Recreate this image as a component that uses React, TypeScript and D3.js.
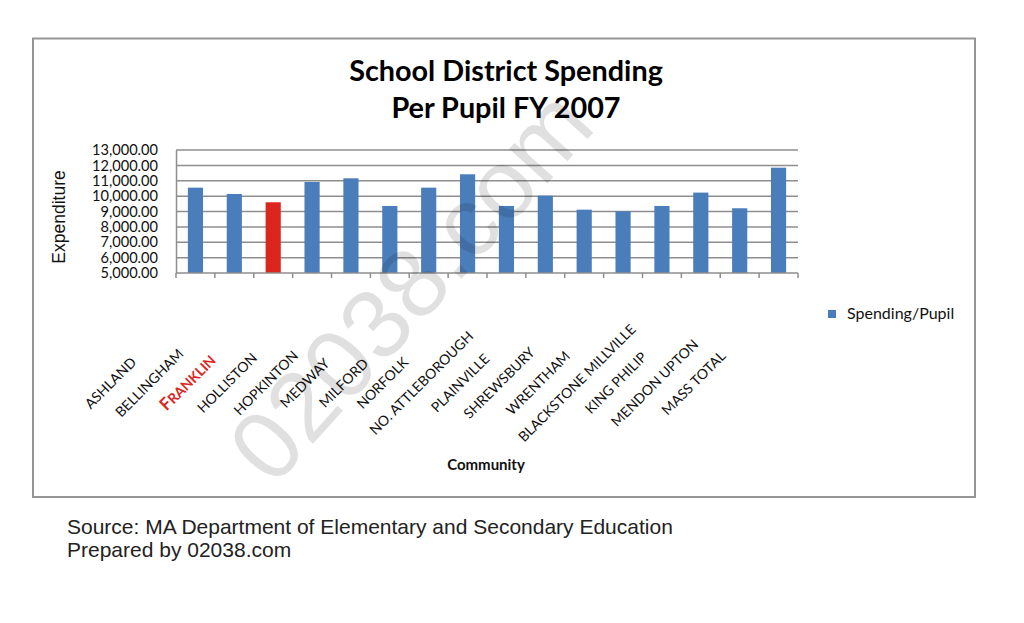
import React, { useEffect, useRef } from 'react';
import * as d3 from 'd3';

const communities = [
  'ASHLAND', 'BELLINGHAM', 'FRANKLIN', 'HOLLISTON', 'HOPKINTON', 'MEDWAY',
  'MILFORD', 'NORFOLK', 'NO. ATTLEBOROUGH', 'PLAINVILLE', 'SHREWSBURY',
  'WRENTHAM', 'BLACKSTONE MILLVILLE', 'KING PHILIP', 'MENDON UPTON', 'MASS TOTAL'
];
const spending = [
  10550, 10140, 9600, 10920, 11160, 9360,
  10550, 11420, 9360, 10030, 9120,
  9010, 9360, 10230, 9210, 11850
];
const highlight = 'FRANKLIN';
const yTicks = [5000, 6000, 7000, 8000, 9000, 10000, 11000, 12000, 13000];
const titleLines = ['School District Spending', 'Per Pupil FY 2007'];
const sourceLines = [
  'Source: MA Department of Elementary and Secondary Education',
  'Prepared by 02038.com'
];

const BLUE = '#4a7ebb';
const RED = '#dc261d';
const GRID = '#8e8e8e';

const App: React.FC = () => {
  const svgRef = useRef<SVGSVGElement>(null);

  useEffect(() => {
    if (!svgRef.current) return;
    const svg = d3.select(svgRef.current);
    svg.selectAll('*').remove();

    // chart frame
    svg.append('rect')
      .attr('x', 33).attr('y', 38.5)
      .attr('width', 942).attr('height', 458.5)
      .attr('fill', '#fff')
      .attr('stroke', '#959595')
      .attr('stroke-width', 2);

    // title
    svg.append('g')
      .selectAll('text')
      .data(titleLines)
      .join('text')
      .attr('x', 506)
      .attr('y', (_, i) => 81 + i * 37)
      .attr('text-anchor', 'middle')
      .attr('font-family', 'Lato, sans-serif')
      .attr('font-weight', 'bold')
      .attr('font-size', 28.8)
      .attr('fill', '#000')
      .text(d => d);

    const plot = { left: 176, right: 798, top: 150, bottom: 273 };

    const x = d3.scaleBand<string>()
      .domain(communities)
      .range([plot.left, plot.right])
      .paddingInner(0.61)
      .paddingOuter(0.305);

    const y = d3.scaleLinear()
      .domain([5000, 13000])
      .range([plot.bottom, plot.top]);

    // gridlines
    svg.append('g')
      .selectAll('line')
      .data(yTicks.slice(1))
      .join('line')
      .attr('x1', plot.left).attr('x2', plot.right)
      .attr('y1', d => y(d)).attr('y2', d => y(d))
      .attr('stroke', GRID)
      .attr('stroke-width', 1.5);

    // y axis
    const yAxis = svg.append('g')
      .attr('transform', `translate(${plot.left},0)`)
      .call(d3.axisLeft(y).tickValues(yTicks).tickSize(0).tickPadding(18).tickFormat(d3.format(',.2f')));
    yAxis.select('.domain').attr('stroke', GRID).attr('stroke-width', 1.5);
    yAxis.selectAll('text')
      .attr('font-family', 'Lato, sans-serif')
      .attr('font-size', 14.6)
      .attr('fill', '#111');

    // bars
    svg.append('g')
      .selectAll('rect')
      .data(communities)
      .join('rect')
      .attr('x', d => x(d)!)
      .attr('y', (_, i) => y(spending[i]))
      .attr('width', x.bandwidth())
      .attr('height', (_, i) => y(5000) - y(spending[i]))
      .attr('fill', d => (d === highlight ? RED : BLUE));

    // x axis with ticks between categories
    const step = x.step();
    const bounds = communities.map(c => x(c)! + x.bandwidth() / 2 - step / 2);
    bounds.push(plot.right);
    svg.append('line')
      .attr('x1', plot.left).attr('x2', plot.right)
      .attr('y1', plot.bottom).attr('y2', plot.bottom)
      .attr('stroke', GRID).attr('stroke-width', 1.5);
    svg.append('g')
      .selectAll('line')
      .data(bounds)
      .join('line')
      .attr('x1', d => d).attr('x2', d => d)
      .attr('y1', plot.bottom).attr('y2', plot.bottom + 5)
      .attr('stroke', GRID).attr('stroke-width', 1.5);

    // category labels, rotated
    const labels = svg.append('g')
      .selectAll('text')
      .data(communities)
      .join('text')
      .attr('transform', d => `translate(${x(d)! + x.bandwidth() / 2 - 85},383) rotate(-45)`)
      .attr('text-anchor', 'middle')
      .attr('dy', '0.35em')
      .attr('font-family', 'Lato, sans-serif')
      .attr('font-size', 14)
      .attr('fill', d => (d === highlight ? RED : '#111'))
      .attr('font-weight', d => (d === highlight ? 'bold' : 'normal'));
    labels.each(function (d) {
      const t = d3.select(this);
      if (d === highlight) {
        t.append('tspan').attr('font-size', 17).text(d.slice(0, 1));
        t.append('tspan').text(d.slice(1));
      } else {
        t.text(d);
      }
    });

    // axis titles
    svg.append('text')
      .attr('transform', 'translate(59,217) rotate(-90)')
      .attr('text-anchor', 'middle')
      .attr('dy', '0.35em')
      .attr('font-family', '"Liberation Sans", Arial, sans-serif')
      .attr('font-size', 17.5)
      .attr('fill', '#111')
      .text('Expenditure');

    svg.append('text')
      .attr('x', 486).attr('y', 470)
      .attr('text-anchor', 'middle')
      .attr('font-family', 'Lato, sans-serif')
      .attr('font-weight', 'bold')
      .attr('font-size', 15)
      .attr('fill', '#111')
      .text('Community');

    // legend
    const legend = svg.append('g').attr('transform', 'translate(828,310)');
    legend.append('rect').attr('width', 8).attr('height', 8).attr('fill', BLUE);
    legend.append('text')
      .attr('x', 19).attr('y', 9)
      .attr('font-family', 'Lato, sans-serif')
      .attr('font-size', 16)
      .attr('fill', '#111')
      .text('Spending/Pupil');

    // source notes
    svg.append('g')
      .selectAll('text')
      .data(sourceLines)
      .join('text')
      .attr('x', 67)
      .attr('y', (_, i) => 534 + i * 23)
      .attr('font-family', '"Liberation Sans", Arial, sans-serif')
      .attr('font-size', 21)
      .attr('fill', '#222')
      .text(d => d);

    // watermark
    svg.append('text')
      .attr('transform', 'translate(410,285) rotate(-48)')
      .attr('text-anchor', 'middle')
      .attr('dy', '0.35em')
      .attr('font-family', '"Liberation Sans", Arial, sans-serif')
      .attr('font-size', 98)
      .attr('fill', '#000')
      .attr('fill-opacity', 0.12)
      .attr('pointer-events', 'none')
      .text('02038.com');
  }, []);

  return (
    <svg
      ref={svgRef}
      width={1024}
      height={623}
      style={{ position: 'absolute', left: 0, top: 0, background: '#fff' }}
    />
  );
};

export default App;
